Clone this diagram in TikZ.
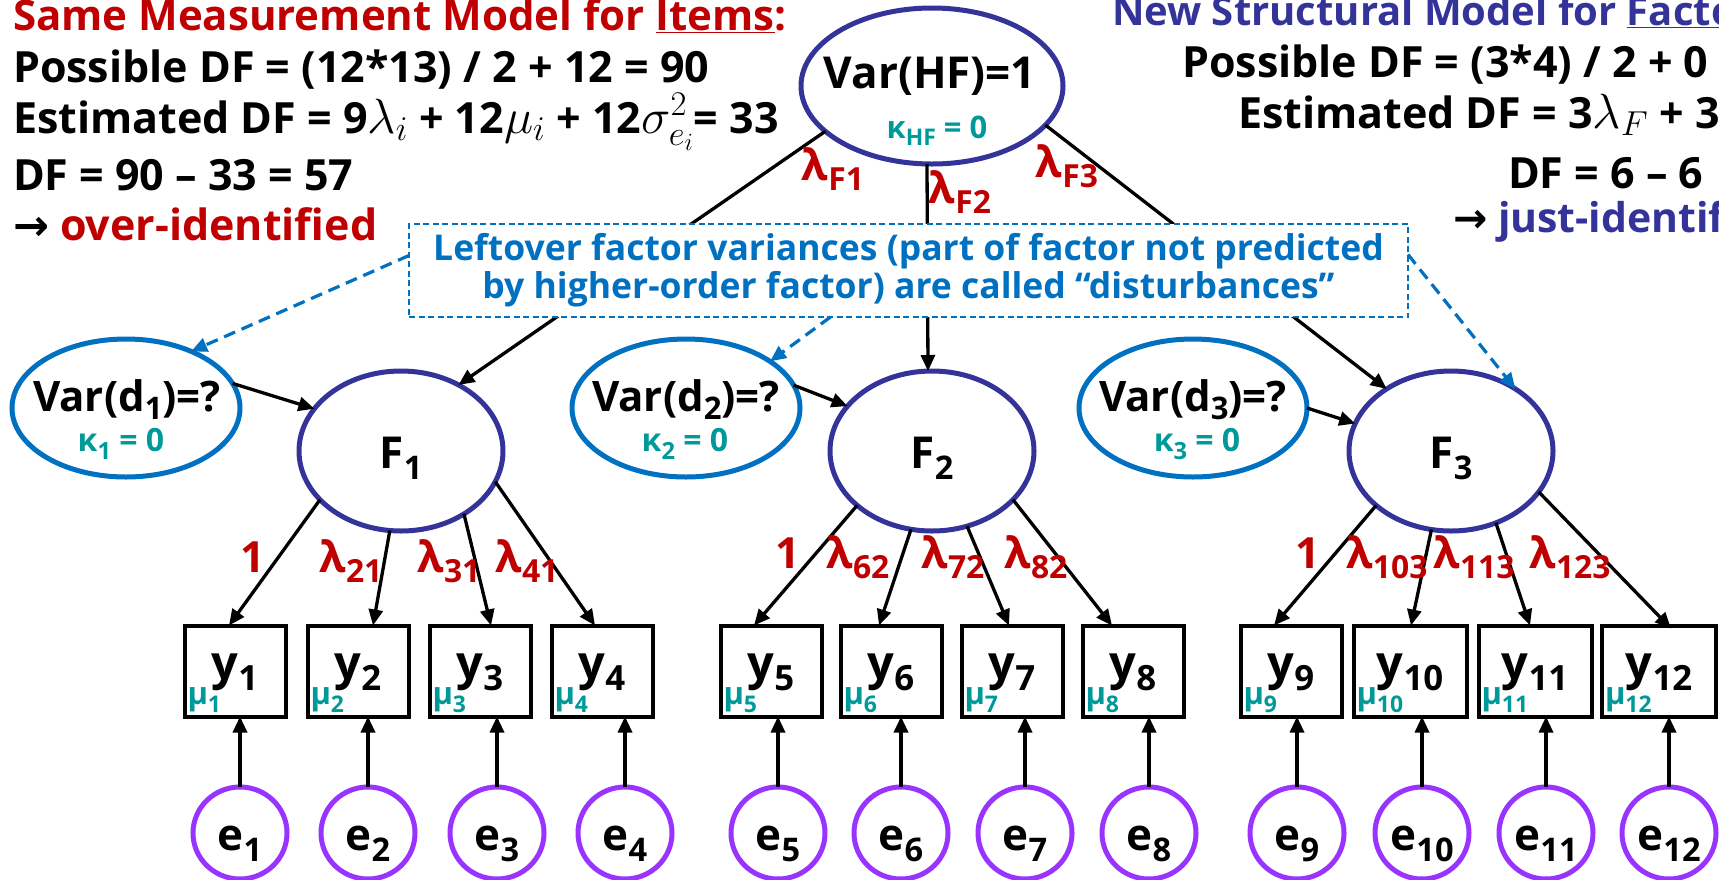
\RequirePackage{fix-cm}
\documentclass[tikz,border=0pt]{standalone}
\usepackage{fontspec}
\setmainfont{Open Sans}
\newfontfamily\arrowfont{DejaVu Sans}
\usetikzlibrary{arrows.meta,calc,shapes.geometric}
\definecolor{dred}{HTML}{C00000}
\definecolor{dblue}{HTML}{333399}
\definecolor{mblue}{HTML}{0070C0}
\definecolor{tealc}{HTML}{009999}
\definecolor{purp}{HTML}{9933FF}
\newcommand\sbs[1]{\raisebox{-0.25em}{\scalebox{0.74}{#1}}}
\newcommand\sbd[1]{\raisebox{-0.2em}{\scalebox{0.74}{#1}}}
\newcommand\fs[1]{\fontsize{#1}{#1}\selectfont}
\newcommand\mth[1]{\scalebox{1.15}{$#1$}}
\begin{document}
\begin{tikzpicture}[x=1pt,y=-1pt,
  every node/.style={inner sep=0pt, outer sep=0pt},
  txt/.style={anchor=base west, font=\fs{43}\bfseries},
  lbl/.style={anchor=base, font=\fs{44}\bfseries},
  klbl/.style={anchor=base, font=\fs{32}\bfseries, text=tealc},
  load/.style={anchor=base, font=\fs{43}\bfseries, text=dred},
  lat/.style={ellipse, draw=dblue, line width=5pt, minimum width=204pt, minimum height=160pt},
  dvar/.style={ellipse, draw=mblue, line width=5pt, minimum width=228pt, minimum height=138pt},
  obs/.style={rectangle, draw=black, line width=4pt, minimum height=91pt},
  err/.style={ellipse, draw=purp, line width=5pt, minimum width=94pt, minimum height=92pt},
  arr/.style={draw=black, line width=3.3pt, -{Triangle[length=16pt,width=14pt]}},
  darr/.style={draw=mblue, line width=3.2pt, dash pattern=on 12pt off 7pt, -{Triangle[length=16pt,width=14pt]}},
  ]
\useasboundingbox (0,0) rectangle (1719,879);
\clip (0,0) rectangle (1719,879);
\fill[white] (0,0) rectangle (1719,879);

% ---------- left text block
\node[txt, text=dred, font=\fs{42}\bfseries] (l1) at (13,30) {Same Measurement Model for \underline{Items}:};
\node[txt] (l2) at (13,82) {Possible DF = (12*13) / 2 + 12 = 90};
\node[txt] (l3) at (13,133) {Estimated DF = 9\mth{\lambda_i} + 12\mth{\mu_i} + 12\mth{\sigma^2_{e_i}}= 33};
\node[txt] (l4) at (13,190) {DF = 90 -- 33 = 57};
\node[txt] (l5) at (13,240) {{\arrowfont\bfseries →} \textcolor{dred}{over-identified}};

% ---------- right text block
\node[txt, text=dblue, font=\fs{40}\bfseries] (r1) at (1112,25) {New Structural Model for \underline{Facto}};
\node[txt] (r2) at (1182,77) {Possible DF = (3*4) / 2 + 0};
\node[txt] (r3) at (1238,128) {Estimated DF = 3\mth{\lambda_F} + 3};
\node[txt] (r4) at (1508,188) {DF = 6 -- 6};
\node[txt, font=\fs{41}\bfseries] (r5) at (1453,232) {{\arrowfont\bfseries →} \textcolor{dblue}{just-identif}};

% ---------- higher-order factor
\node[ellipse, draw=dblue, line width=5pt, minimum width=262pt, minimum height=156pt] (HF) at (932,86) {};
\node[lbl] (HFt) at (930,88) {Var(HF)=1};
\node[klbl, font=\fs{31}\bfseries] (HFk) at (937,138) {κ\sbs{HF} = 0};

% ---------- factors
\node[lat] (F1) at (401,451) {};
\node[lat] (F2) at (932,451) {};
\node[lat] (F3) at (1451,451) {};
\node[lbl] (F1t) at (401,468) {F\sbs{1}};
\node[lbl] (F2t) at (932,468) {F\sbs{2}};
\node[lbl] (F3t) at (1451,468) {F\sbs{3}};

% ---------- disturbances
\node[dvar] (d1) at (126,408) {};
\node[dvar] (d2) at (686,408) {};
\node[dvar] (d3) at (1193,408) {};
\node[lbl, font=\fs{42}\bfseries] (d1t) at (127,411) {Var(d\sbd{1})=?};
\node[lbl, font=\fs{42}\bfseries] (d2t) at (686,411) {Var(d\sbd{2})=?};
\node[lbl, font=\fs{42}\bfseries] (d3t) at (1193,411) {Var(d\sbd{3})=?};
\node[klbl] (d1k) at (121,451) {κ\sbs{1} = 0};
\node[klbl] (d2k) at (685,451) {κ\sbs{2} = 0};
\node[klbl] (d3k) at (1197,451) {κ\sbs{3} = 0};

% ---------- observed items and errors
\foreach \i/\x/\w in {1/235/101,2/358/101,3/480/101,4/602/101,5/771/101,6/891/101,7/1012/101,8/1133/101,9/1291/101,10/1410/113,11/1535/113,12/1659/114}{
  \node[obs, minimum width=\w pt] (y\i) at (\x,671) {};
  \node[lbl, font=\fs{47}\bfseries] (y\i t) at (\x,679) {y\sbs{\i}};
  \node[anchor=base west, font=\fs{31}\bfseries, text=tealc] (m\i) at ($(y\i.south west)+(3,-12)$) {μ\sbs{\i}};
}
\foreach \i/\x in {1/240,2/368,3/497,4/625,5/778,6/901,7/1025,8/1149,9/1297,10/1422,11/1546,12/1669}{
  \node[err] (e\i) at (\x,833) {};
  \node[lbl] (e\i t) at (\x,850) {e\sbs{\i}};
  \draw[arr] (e\i.north) -- (e\i.north |- y\i.south);
}

% ---------- loadings F -> items
\draw[arr] (F1.211) -- ($(y1.north)+(-6,0)$);
\draw[arr] (F1.262) -- ($(y2.north)+(15,0)$);
\draw[arr] (F1.315) -- ($(y3.north)+(11,0)$);
\draw[arr] (F1.342) -- ($(y4.north)+(-7,0)$);
\draw[arr] (F2.216) -- ($(y5.north)+(-17,0)$);
\draw[arr] (F2.255) -- ($(y6.north)+(-12,0)$);
\draw[arr] (F2.295) -- ($(y7.north)+(-3,0)$);
\draw[arr] (F2.329) -- ($(y8.north)+(-21,0)$);
\draw[arr] (F3.216) -- ($(y9.north)+(-17,0)$);
\draw[arr] (F3.256) -- ($(y10.north)+(1,0)$);
\draw[arr] (F3.302) -- ($(y11.north)+(-5,0)$);
\draw[arr] (F3.335) -- ($(y12.north)+(12,3)$);

\node[load] (L11) at (253,572) {1};
\node[load] (L21) at (351,572) {λ\sbs{21}};
\node[load] (L31) at (449,572) {λ\sbs{31}};
\node[load] (L41) at (527,572) {λ\sbs{41}};
\node[load] (L52) at (788,568) {1};
\node[load] (L62) at (858,568) {λ\sbs{62}};
\node[load] (L72) at (953,568) {λ\sbs{72}};
\node[load] (L82) at (1036,568) {λ\sbs{82}};
\node[load] (L93) at (1308,568) {1};
\node[load] (L103) at (1387,568) {λ\sbs{103}};
\node[load] (L113) at (1474,568) {λ\sbs{113}};
\node[load] (L123) at (1570,568) {λ\sbs{123}};

% ---------- disturbances -> factors
\draw[arr] (d1.13) -- (F1.154);
\draw[arr] (d2.12) -- (F2.152);
\draw[arr] (d3.0) -- (F3.164);

% ---------- higher-order loadings
\draw[arr] (HF.203) -- (F1.49);
\draw[arr] ($(HF.south)+(-5,0)$) -- ($(F2.north)+(-4,0)$);
\draw[arr] (HF.341) -- (F3.136);
\node[load] (LF1) at (833,180) {λ\sbs{F1}};
\node[load] (LF2) at (960,203) {λ\sbs{F2}};
\node[load] (LF3) at (1067,177) {λ\sbs{F3}};

% ---------- note box
\node[draw=mblue, fill=white, line width=2.2pt, dash pattern=on 6pt off 3.5pt,
      minimum width=999pt, minimum height=93pt, align=center, text=mblue,
      font=\fs{35.5}\bfseries, execute at begin node={\setlength{\baselineskip}{38pt}}] (note) at (908.5,270.5)
  {Leftover factor variances (part of factor not predicted\\by higher-order factor) are called “disturbances”};
\draw[darr] ($(note.west)+(0,-15)$) -- (d1.41);
\draw[darr] ($(note.south)+(-78,0)$) -- (d2.29);
\draw[darr] ($(note.east)+(0,-16)$) -- (F3.44);
\end{tikzpicture}
\end{document}
